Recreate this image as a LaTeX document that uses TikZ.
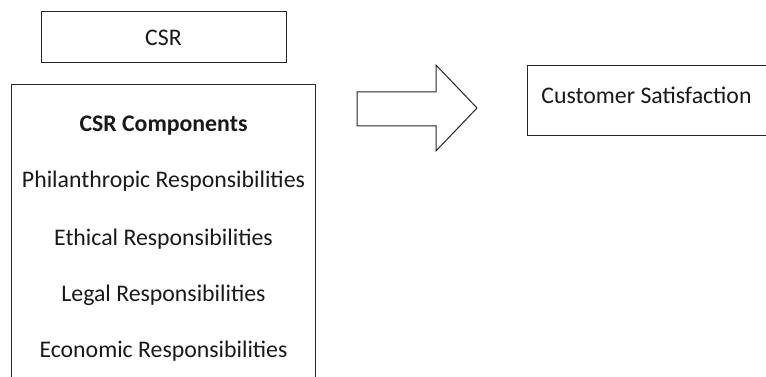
\documentclass[tikz,border=0pt]{standalone}
\usepackage{fontspec}
\setmainfont{Carlito}
\begin{document}
\begin{tikzpicture}[x=1pt,y=-1pt,
  box/.style={draw=black!85, line width=1pt, inner sep=0pt},
  txt/.style={font=\fontsize{23.8}{28}\selectfont, text=black!90, inner sep=0pt, anchor=base},
  arrowshape/.style={draw=black!85, line width=1pt, line join=miter}]
\clip (0,0) rectangle (766,377);
\fill[white] (0,0) rectangle (766,377);
% CSR box
\node[box, minimum width=245pt, minimum height=51pt] (csr) at (163.5,37.5) {};
\node[txt] (csrt) at (163.5,46) {CSR};
% Components box (bottom cut off)
\node[box, minimum width=304pt, minimum height=310pt] (comp) at (163.5,240) {};
\node[txt, font=\fontsize{23.8}{28}\selectfont\bfseries] (c0) at (163.5,132) {CSR Components};
\node[txt] (c1) at (163.5,188) {Philanthropic Responsibilities};
\node[txt] (c2) at (163.5,245) {Ethical Responsibilities};
\node[txt] (c3) at (163.5,301) {Legal Responsibilities};
\node[txt] (c4) at (163.5,357) {Economic Responsibilities};
% block arrow
\coordinate (a1) at (357,92);
\coordinate (a2) at (436,92);
\coordinate (a3) at (436,65);
\coordinate (tip) at (477,108);
\coordinate (a5) at (436,151);
\coordinate (a6) at (436,126);
\coordinate (a7) at (357,126);
\draw[arrowshape] (a1) -- (a2) -- (a3) -- (tip) -- (a5) -- (a6) -- (a7) -- cycle;
% Customer satisfaction box
\node[box, minimum width=240pt, minimum height=70pt] (cs) at (647,101) {};
\node[txt] (cst) at (646.5,104) {Customer Satisfaction};
\end{tikzpicture}
\end{document}
